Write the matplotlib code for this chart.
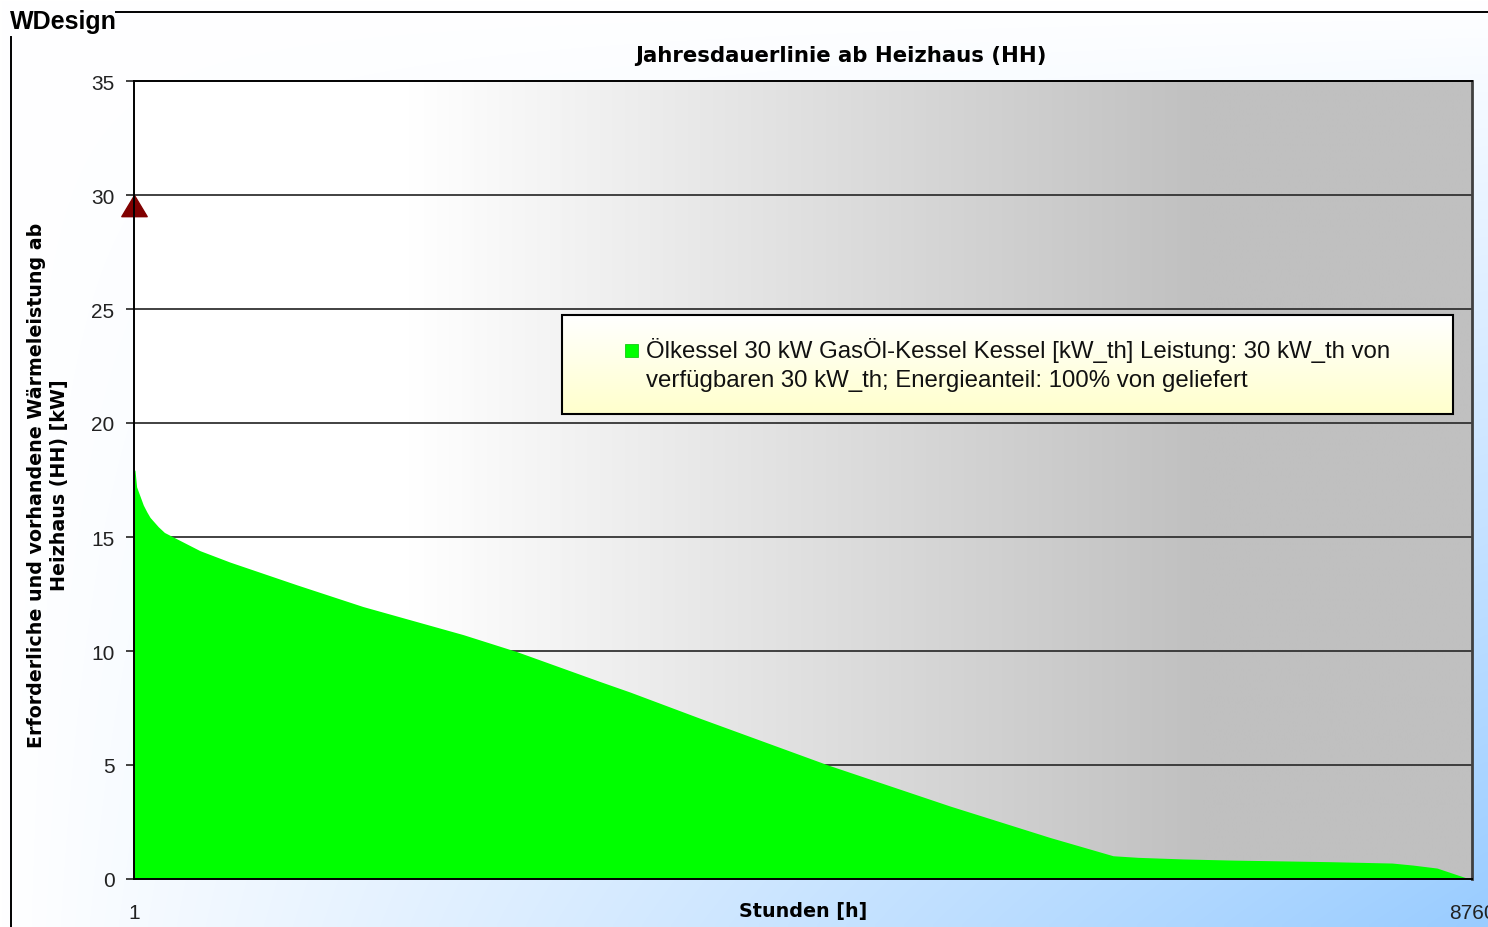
import numpy as np
import matplotlib
matplotlib.use("Agg")
import matplotlib.pyplot as plt
from matplotlib.lines import Line2D
from matplotlib.patches import Rectangle
from matplotlib.path import Path

# Load duration curve of the heating house (hours sorted by demand)
hours = [1, 8, 18, 62, 85, 106, 160, 200, 258, 433, 629, 1068, 1500, 2155,
         2508, 3052, 3248, 3706, 4544, 5343, 5998, 6410, 6574, 6868, 7189,
         7830, 8236, 8374, 8531, 8727, 8760]
load_kw = [18.0, 17.9, 17.2, 16.4, 16.1, 15.86, 15.45, 15.2, 15.0, 14.4,
           13.9, 12.9, 11.95, 10.72, 9.97, 8.66, 8.2, 7.05, 5.0, 3.2, 1.82,
           1.02, 0.95, 0.88, 0.83, 0.76, 0.70, 0.61, 0.48, 0.04, 0.0]

# Installed boiler capacity
capacity_hour = [1]
capacity_kw = [30]

y_ticks = [0, 5, 10, 15, 20, 25, 30, 35]
x_ticks = [1, 8760]
x_tick_labels = ["1", "8760"]

title = "Jahresdauerlinie ab Heizhaus (HH)"
x_label = "Stunden [h]"
y_label = "Erforderliche und vorhandene Wärmeleistung ab\nHeizhaus (HH) [kW]"
legend_lines = ["Ölkessel 30 kW GasÖl-Kessel Kessel [kW_th] Leistung: 30 kW_th von",
                "verfügbaren 30 kW_th; Energieanteil: 100% von geliefert"]

W, H = 1488, 928
fig = plt.figure(figsize=(W / 100, H / 100), dpi=100)

# figure background: white fading to light blue towards the lower right corner
bg = fig.add_axes([0, 0, 1, 1], zorder=-10)
gx = np.linspace(0, 1, 300)[None, :]
gy = np.linspace(0, 1, 200)[:, None]   # row 0 is the top of the figure
t = np.clip(gx * gy, 0, 1)
white = np.array([1.0, 1.0, 1.0])
blue = np.array([153, 204, 255]) / 255
img = white[None, None, :] * (1 - t[..., None]) + blue[None, None, :] * t[..., None]
bg.imshow(img, aspect="auto", extent=(0, 1, 0, 1), interpolation="bilinear")
bg.set_xlim(0, 1)
bg.set_ylim(0, 1)
bg.axis("off")

# outer frame with the "WDesign" caption in the top-left corner
fig.add_artist(Line2D([116 / W, 1], [1 - 12.5 / H, 1 - 12.5 / H], color="black", lw=1.4))
fig.add_artist(Line2D([10.5 / W, 10.5 / W], [0, 1 - 38 / H], color="black", lw=1.4))
fig.text(10 / W, 1 - 22 / H, "WDesign", fontsize=18, fontweight="bold",
         family="Liberation Sans", va="center", ha="left")

# plot area
x0, x1, y_top, y_bot = 134, 1472, 82, 880
ax = fig.add_axes([x0 / W, 1 - y_bot / H, (x1 - x0) / W, (y_bot - y_top) / H])
ax.set_facecolor("none")

# horizontal grey gradient inside the plot area
px = np.linspace(0, 1, 600)
f = np.clip((px - 0.207) / 0.592, 0, 1)
grey = (255 - 63 * f) / 255
pa = np.dstack([np.tile(grey, (2, 1))] * 3)
ax.imshow(pa, aspect="auto", extent=(x_ticks[0], x_ticks[-1], 0, 35),
          interpolation="bilinear", zorder=0)

for v in y_ticks[1:-1]:
    ax.axhline(v, color="#333333", lw=1.3, zorder=1)

ax.fill_between(hours, load_kw, 0, color="#00FF00", lw=0, zorder=2)

apex_tri = Path([(0, 0), (-0.6, -1), (0.6, -1), (0, 0)],
                [Path.MOVETO, Path.LINETO, Path.LINETO, Path.CLOSEPOLY])
ax.plot(capacity_hour, capacity_kw, ls="none", marker=apex_tri, markersize=30.5,
        color="#800000", mec="#800000", clip_on=False, zorder=5)

ax.set_xlim(x_ticks[0], x_ticks[-1])
ax.set_ylim(0, 35)
ax.set_yticks(y_ticks)
ax.set_xticks(x_ticks)
ax.set_xticklabels(x_tick_labels)
ax.tick_params(axis="y", length=6, width=1.3, color="#333333", pad=8,
               labelsize=15)
ax.tick_params(axis="x", length=0, pad=17, labelsize=15)
for lab in ax.get_xticklabels() + ax.get_yticklabels():
    lab.set_family("Liberation Sans")
    lab.set_color("#222222")
for side in ["left", "bottom", "top"]:
    ax.spines[side].set_color("black")
    ax.spines[side].set_linewidth(1.4)
ax.spines["right"].set_color("#404040")
ax.spines["right"].set_linewidth(2)
for s in ax.spines.values():
    s.set_zorder(6)

# legend box with a white-to-pale-yellow gradient
lx0, lx1 = (562 - x0) / (x1 - x0), (1453 - x0) / (x1 - x0)
ly0, ly1 = (y_bot - 415) / (y_bot - y_top), (y_bot - 316) / (y_bot - y_top)
lg = np.linspace(0, 1, 100)[:, None]
yellow = np.array([255, 255, 204]) / 255
limg = white[None, None, :] * (1 - lg[..., None]) + yellow[None, None, :] * lg[..., None]
limg = np.repeat(limg, 2, axis=1)
ax.imshow(limg, aspect="auto", extent=(lx0, lx1, ly0, ly1), transform=ax.transAxes,
          interpolation="bilinear", zorder=7)
ax.add_patch(Rectangle((lx0, ly0), lx1 - lx0, ly1 - ly0, transform=ax.transAxes,
                       fill=False, ec="black", lw=1.5, zorder=8))
ax.add_patch(Rectangle(((625 - x0) / (x1 - x0), (y_bot - 358) / (y_bot - y_top)),
                       13 / (x1 - x0), 13 / (y_bot - y_top), transform=ax.transAxes,
                       fc="#00FF00", ec="#00C000", lw=0.5, zorder=9))
for i, line in enumerate(legend_lines):
    ax.text((646 - x0) / (x1 - x0), (y_bot - (351 + 30 * i)) / (y_bot - y_top), line,
            transform=ax.transAxes, ha="left", va="center", fontsize=17.3,
            family="Liberation Sans", color="#111111", zorder=9)
ax.set_xlim(x_ticks[0], x_ticks[-1])
ax.set_ylim(0, 35)

# titles
fig.text(841 / W, 1 - 56 / H, title, ha="center", va="center", fontsize=15.3,
         fontweight="bold", family="DejaVu Sans")
fig.text(803 / W, 1 - 912 / H, x_label, ha="center", va="center", fontsize=13.8,
         fontweight="bold", family="DejaVu Sans")
fig.text(48 / W, 1 - 485 / H, y_label, ha="center", va="center", rotation=90,
         fontsize=13.7, fontweight="bold", family="DejaVu Sans",
         multialignment="center", linespacing=1.3)

fig.savefig("out.png", dpi=100)
